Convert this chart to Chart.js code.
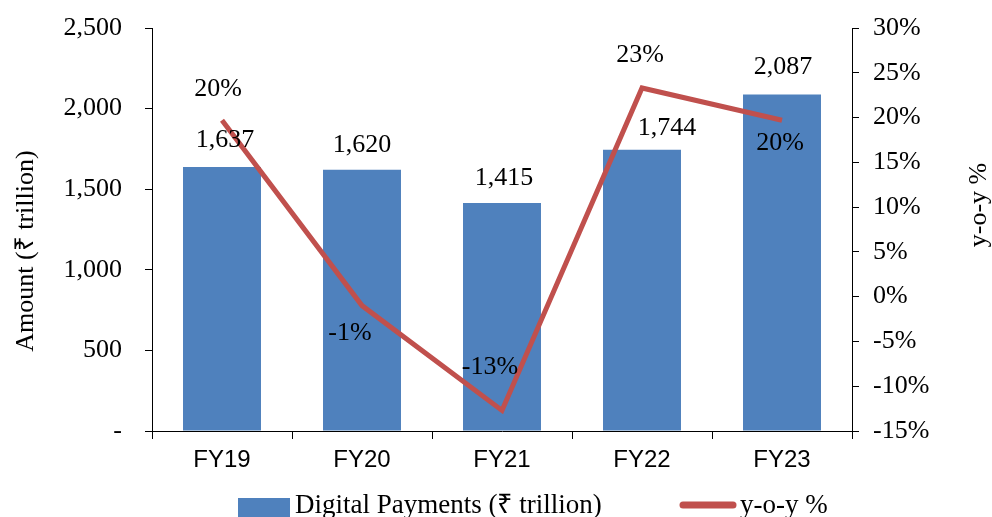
<!DOCTYPE html>
<html>
<head>
<meta charset="utf-8">
<script src="https://cdn.jsdelivr.net/npm/chart.js@4/dist/chart.umd.min.js"></script>
<style>
    body { margin: 0; background: #fff; }
    #wrap { width: 992px; height: 517px; }
</style>
</head>
<body>
<div id="wrap"><canvas id="paymentsChart" width="992" height="517"></canvas></div>
<script>
// Data
const years = ['FY19', 'FY20', 'FY21', 'FY22', 'FY23'];
const payments = [1637, 1620, 1415, 1744, 2087];
const yoyGrowth = [19.7, -1.0, -12.7, 23.3, 19.7];
const leftTicks = [0, 500, 1000, 1500, 2000, 2500];
const rightTicks = [-15, -10, -5, 0, 5, 10, 15, 20, 25, 30];

const BAR_BLUE = '#4F81BD';
const LINE_RED = '#C0504D';
const SERIF = '"Liberation Serif", "Times New Roman", serif';
const SANS = '"Liberation Sans", Arial, sans-serif';

// label nudges (px) so they sit where the original put them
const barLabelShift = [[3, -27], [0, -25], [2, -25], [25, -22], [1, -27]];
const lineLabelShift = [[-4, -31], [-12, 28], [-12, -43], [-2, -33], [-2, 23]];

const labelsPlugin = {
    id: 'labelsPlugin',
    afterDatasetsDraw(chart) {
        const ctx = chart.ctx;
        ctx.save();
        ctx.fillStyle = '#000';
        ctx.font = '26px ' + SERIF;
        ctx.textAlign = 'center';
        ctx.textBaseline = 'middle';

        chart.getDatasetMeta(0).data.forEach((bar, i) => {
            const [dx, dy] = barLabelShift[i];
            ctx.fillText(payments[i].toLocaleString('en-US'), bar.x + dx, bar.y + dy);
        });
        chart.getDatasetMeta(1).data.forEach((pt, i) => {
            const [dx, dy] = lineLabelShift[i];
            ctx.fillText(Math.round(yoyGrowth[i]) + '%', pt.x + dx, pt.y + dy);
        });

        // axis titles
        ctx.save();
        ctx.translate(26, 251);
        ctx.rotate(-Math.PI / 2);
        ctx.fillText('Amount (₹ trillion)', 0, 0);
        ctx.restore();
        ctx.save();
        ctx.translate(979, 205);
        ctx.rotate(-Math.PI / 2);
        ctx.fillText('y-o-y %', 0, 0);
        ctx.restore();

        // legend along the bottom (cut off by the bottom edge, as in the original)
        ctx.fillStyle = BAR_BLUE;
        ctx.fillRect(238, 498, 52, 19);
        ctx.strokeStyle = LINE_RED;
        ctx.lineWidth = 7;
        ctx.lineCap = 'round';
        ctx.beginPath();
        ctx.moveTo(683, 505);
        ctx.lineTo(733, 505);
        ctx.stroke();
        ctx.fillStyle = '#000';
        ctx.font = '27px ' + SERIF;
        ctx.textAlign = 'left';
        ctx.fillText('Digital Payments (₹ trillion)', 295, 506);
        ctx.fillText('y-o-y %', 740, 506);
        ctx.restore();
    }
};

// keep the tick labels from pushing the plot area down
function noEdgePadding(scale) {
    scale.paddingTop = 0;
    scale.paddingBottom = 0;
}

new Chart(document.getElementById('paymentsChart'), {
    type: 'bar',
    data: {
        labels: years,
        datasets: [{
            type: 'bar',
            label: 'Digital Payments (₹ trillion)',
            data: payments,
            backgroundColor: BAR_BLUE,
            categoryPercentage: 1,
            barPercentage: 0.557,
            yAxisID: 'y',
            order: 1
        }, {
            type: 'line',
            label: 'y-o-y %',
            data: yoyGrowth,
            borderColor: LINE_RED,
            borderWidth: 5,
            pointRadius: 0,
            tension: 0,
            yAxisID: 'y1',
            order: 0
        }]
    },
    options: {
        responsive: false,
        animation: false,
        devicePixelRatio: 1,
        layout: { padding: { top: 28, left: 0, right: 0, bottom: 0 } },
        plugins: {
            legend: { display: false },
            tooltip: { enabled: false }
        },
        scales: {
            x: {
                grid: { drawOnChartArea: false, color: '#000', tickLength: 8 },
                border: { color: '#000', width: 1 },
                ticks: { color: '#000', font: { family: SANS, size: 24 }, padding: 7 },
                afterFit(scale) { scale.height = 86; }
            },
            y: {
                position: 'left',
                min: 0,
                max: 2500,
                afterBuildTicks(scale) { scale.ticks = leftTicks.map(v => ({ value: v })); },
                grid: { drawOnChartArea: false, color: '#000', tickLength: 7 },
                border: { color: '#000', width: 1 },
                ticks: {
                    color: '#000',
                    font: { family: SERIF, size: 26 },
                    padding: 23,
                    callback: v => v === 0 ? '-' : v.toLocaleString('en-US')
                },
                afterFit(scale) {
                    scale.width = 152;
                    noEdgePadding(scale);
                }
            },
            y1: {
                position: 'right',
                min: -15,
                max: 30,
                afterBuildTicks(scale) { scale.ticks = rightTicks.map(v => ({ value: v })); },
                grid: { drawOnChartArea: false, color: '#000', tickLength: 7 },
                border: { color: '#000', width: 1 },
                ticks: {
                    color: '#000',
                    font: { family: SERIF, size: 26 },
                    padding: 14,
                    callback: v => v + '%'
                },
                afterFit(scale) {
                    scale.width = 140;
                    noEdgePadding(scale);
                }
            }
        }
    },
    plugins: [labelsPlugin]
});
</script>
</body>
</html>
